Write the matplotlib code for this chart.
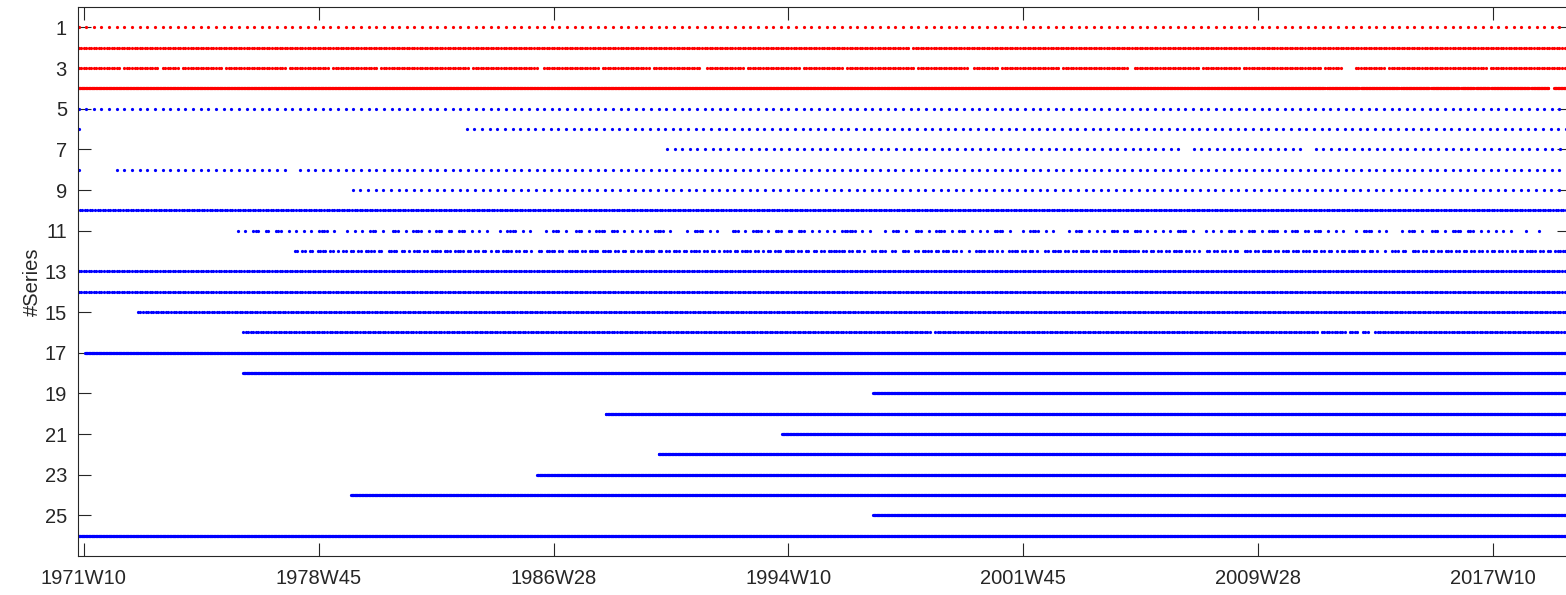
import numpy as np
import matplotlib.pyplot as plt

plt.rcParams['font.family'] = ['Liberation Sans', 'DejaVu Sans']

# x axis is a week index (1 = 1971W01), labelled every 400 weeks
tick_weeks = [10, 410, 810, 1210, 1610, 2010, 2410]
tick_labels = ['1971W10', '1978W45', '1986W28', '1994W10', '2001W45', '2009W28', '2017W10']
last_week = 2534

# one entry per series (row 1..26)
series_color = ['red'] * 4 + ['blue'] * 22
series_freq = ['Q', 'M', 'M', 'W', 'Q', 'Q', 'Q', 'Q', 'Q', 'M', 'P', 'P', 'M',
               'M', 'M', 'M', 'W', 'W', 'W', 'W', 'W', 'W', 'W', 'W', 'W', 'W']
series_start = [1, 1, 1, 1, 1, 662, 1003, 66, 468, 3, 272, 369, 1,
                1, 102, 281, 12, 281, 1354, 899, 1199, 989, 782, 465, 1354, 1]

# lone early observations
series_extra = {6: [1], 8: [1]}

# missing stretches (from week, to week)
series_gaps = {
    2: [(1414, 1421)],
    3: [(72, 77), (137, 142), (173, 178), (246, 251), (355, 360), (427, 432), (509, 514),
        (665, 670), (785, 790), (887, 892), (972, 977), (1062, 1067), (1134, 1139),
        (1228, 1233), (1304, 1309), (1423, 1428), (1517, 1522), (1568, 1573), (1670, 1675),
        (1790, 1795), (1909, 1914), (1977, 1982), (2118, 2123), (2152, 2172), (2227, 2232),
        (2398, 2403)],
    4: [(2124, 2126), (2182, 2184), (2250, 2252), (2302, 2304), (2353, 2355), (2378, 2380),
        (2404, 2406), (2472, 2474), (2505, 2513)],
    7: [(1875, 1887), (2083, 2095)],
    8: [(362, 372)],
    16: [(1451, 1459), (2112, 2116), (2159, 2163), (2180, 2184), (2197, 2207)],
}

# irregular monthly series: (first week, month mask '#' = observed)
row11_pattern = [
    (272, "#..#..###..##..###..#..#..#..#..####..#....#..#..#..###..#...###..#..####..#..###.."
          "##..###..#..#..#....#..####..#..#.....#..###..#...###..#..####..###..#..#..#..#..####..#"),
    (1037, "#..####..#..#.....###..#..####..#..###..##..###..#..#..#..#..######..#..#.....#..###.."
           "#...###..#..####..#..###..#..#..#..####..#....#..####..#..#.....#..###..#..#..#..###"),
    (1782, "##..###..#..#..#..#..####..#....#..#..#..###..#..###..#..####..#..###..##..###..#..#.."
           "#....#..####..#..#.....#..###..#...###..#..####..###..#..#..#..#..#.....#....#"),
]
row12_pattern = [
    (369, "##.##.##.####.##.#.##.##.##.####.##..####.##.#.###.##.####.###.####.##.##.##.#.##."
          "####.##.##.#..##.####.##..####.##.####.####.##.##.##.##.####.##.##.##"),
    (1023, "#.##.####.##.##.#.###.##.####.##.#.##.###.####.##.##.##.##.#######.##.##.#..##.###.."
           "##..###..##.####.##.###.##.#..#..####.##.#.#..####.##.##.#..##.####.##.##.####.##."
           "####.##.#.##"),
    (1775, "###.####.##.##.##.##.####.##.#.#..##.##.##.#.##..###.##.####.##.###.###.###.##.##.##."
           "#.##.####.##.##.#..#..###.##..###.##.##.##.###.##.##.##.##.#.##.##.#.##.##.####.##."
           "##.#######"),
]
patterns = {11: row11_pattern, 12: row12_pattern}

step_weeks = {'W': 1.0, 'M': 52 / 12, 'Q': 13.0}

fig = plt.figure(figsize=(15.66, 5.95), dpi=100)
ax = fig.add_axes([78 / 1566, 1 - 556 / 595, 1492 / 1566, 549 / 595])

for i in range(26):
    row = i + 1
    if series_freq[i] == 'P':
        xs = []
        for w0, mask in patterns[row]:
            for m, ch in enumerate(mask):
                if ch == '#':
                    xs.append(w0 + m * step_weeks['M'])
        xs = np.array(xs)
    else:
        xs = np.arange(series_start[i], last_week + 0.5, step_weeks[series_freq[i]])
        keep = np.ones(len(xs), dtype=bool)
        for a, b in series_gaps.get(row, []):
            keep &= ~((xs >= a) & (xs <= b))
        xs = np.concatenate([series_extra.get(row, []), xs[keep]])
    ax.plot(xs, np.full(len(xs), row), 'o', ms=2.3, mew=0, color=series_color[i],
            linestyle='none')

ax.set_xlim(0, 2541)
ax.set_ylim(27, 0)
ax.set_xticks(tick_weeks)
ax.set_xticklabels(tick_labels)
ax.set_yticks(range(1, 26, 2))
ax.tick_params(direction='in', length=9.5, width=0.8, color='#262626',
               top=True, right=True, labelsize=14.5, labelcolor='#262626')
ax.tick_params(axis='x', pad=9)
ax.tick_params(axis='y', pad=8)
for sp in ax.spines.values():
    sp.set_color('#262626')
    sp.set_linewidth(0.8)
ax.set_ylabel('#Series', fontsize=14.5, color='#262626')
ax.yaxis.set_label_coords(-0.024, 0.5)

fig.savefig('out.png', dpi=100)
